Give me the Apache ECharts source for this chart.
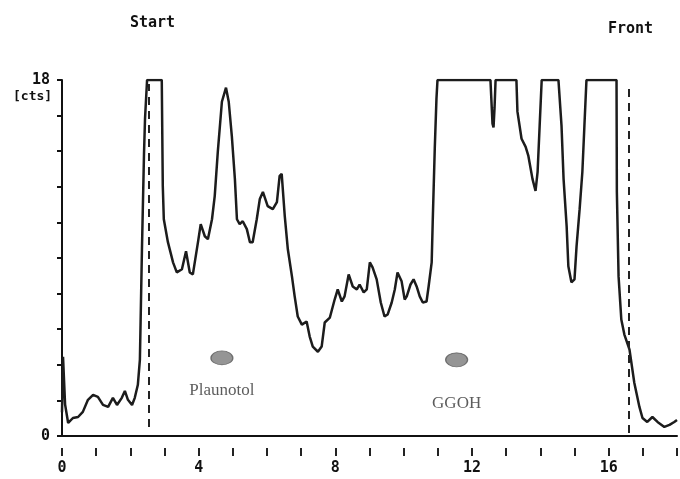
<!DOCTYPE html>
<html>
<head>
<meta charset="utf-8">
<script src="https://cdn.jsdelivr.net/npm/echarts@6/dist/echarts.min.js"></script>
<style>html,body{margin:0;padding:0;background:#fff}#c{width:680px;height:479px}</style>
</head>
<body>
<div id="c"></div>
<script>
// Migration distance (cm) and detector counts
const distance = [0.00,0.03,0.09,0.18,0.32,0.47,0.61,0.76,0.91,1.05,1.20,1.35,1.49,1.61,1.75,1.84,1.93,2.05,2.13,2.22,2.28,2.34,2.40,2.43,2.49,2.92,2.95,2.98,3.10,3.25,3.36,3.51,3.63,3.74,3.83,3.98,4.06,4.18,4.27,4.39,4.47,4.56,4.68,4.80,4.88,4.97,5.06,5.12,5.20,5.29,5.41,5.50,5.58,5.70,5.79,5.88,6.02,6.17,6.29,6.37,6.43,6.52,6.61,6.73,6.81,6.90,7.02,7.16,7.25,7.34,7.49,7.60,7.69,7.84,7.98,8.07,8.19,8.27,8.39,8.51,8.63,8.71,8.83,8.92,9.01,9.09,9.21,9.33,9.44,9.53,9.65,9.74,9.82,9.94,10.03,10.09,10.20,10.29,10.38,10.47,10.56,10.67,10.73,10.82,10.85,10.91,10.96,10.99,12.54,12.60,12.63,12.66,12.69,13.30,13.33,13.45,13.57,13.65,13.77,13.86,13.92,13.98,14.04,14.53,14.62,14.68,14.77,14.82,14.91,15.00,15.06,15.15,15.23,15.29,15.35,16.23,16.24,16.29,16.37,16.46,16.61,16.75,16.90,16.99,17.13,17.28,17.43,17.63,17.78,17.92,18.00];
const counts = [1.2,4.0,1.6,0.66,0.91,0.96,1.22,1.83,2.08,1.98,1.57,1.47,1.93,1.57,1.93,2.28,1.83,1.57,1.93,2.59,3.86,9.44,14.26,16.04,18,18,12.64,10.96,9.80,8.78,8.27,8.43,9.34,8.27,8.17,9.80,10.71,10.10,9.95,10.96,12.13,14.37,16.90,17.61,16.90,15.18,13.00,10.96,10.71,10.86,10.46,9.80,9.80,10.96,11.98,12.34,11.62,11.47,11.83,13.15,13.25,11.12,9.44,8.07,7.06,6.04,5.63,5.79,5.03,4.52,4.26,4.52,5.74,5.99,6.90,7.41,6.80,7.06,8.17,7.56,7.41,7.66,7.26,7.41,8.78,8.53,7.92,6.75,6.04,6.14,6.75,7.41,8.27,7.82,6.90,7.06,7.66,7.92,7.56,7.06,6.75,6.80,7.56,8.78,10.81,14.52,17.06,18,18,15.79,15.6,16.6,18,18,16.40,15.03,14.62,14.16,13.00,12.39,13.35,15.69,18,18,15.69,13.00,10.61,8.58,7.77,7.92,9.59,11.47,13.35,15.69,18,18,12.34,8.07,5.89,5.13,4.37,2.69,1.47,0.91,0.71,0.96,0.71,0.46,0.56,0.71,0.81];
const xTickLabels = ['0','4','8','12','16'];
const yTickLabels = ['0','18'];
const startLine = 2.54;
const frontLine = 16.59;
const spotNames = ['Plaunotol', 'GGOH'];
const spotX = [4.68, 11.55];
const spotY = [3.95, 3.85];

const chart = echarts.init(document.getElementById('c'), null, {renderer:'canvas'});
const pts = distance.map((d,i)=>[d, counts[i]]);
const mono = '"DejaVu Sans Mono", monospace';
const labelGap = [17, 28];

chart.setOption({
  backgroundColor:'#fff',
  animation:false,
  grid:{left:62, right:2, top:80, bottom:43},
  xAxis:[{
    type:'value', min:0, max:18, interval:1,
    axisLine:{show:true, lineStyle:{color:'#111', width:2}},
    axisTick:{show:false}, axisLabel:{show:false}, splitLine:{show:false}
  },{
    type:'value', min:0, max:18, interval:1, position:'bottom', offset:12,
    axisLine:{show:false},
    axisTick:{show:true, length:8, lineStyle:{color:'#222', width:2}},
    axisLabel:{show:true, margin:13, color:'#111', fontFamily:mono, fontWeight:'bold', fontSize:15,
      formatter:v=>{const s=String(Math.round(v)); return (Math.abs(v-Math.round(v))<1e-6 && xTickLabels.includes(s))?s:'';}},
    splitLine:{show:false}
  }],
  yAxis:{
    type:'value', min:0, max:18, interval:1.8,
    axisLine:{show:true, lineStyle:{color:'#111', width:2}},
    axisTick:{show:true, inside:false, length:5, lineStyle:{color:'#111', width:2}},
    axisLabel:{show:true, margin:12, color:'#111', fontFamily:mono, fontWeight:'bold', fontSize:15,
      formatter:v=>{const s=String(Math.round(v)); return (Math.abs(v-Math.round(v))<1e-6 && yTickLabels.includes(s))?s:'';}},
    splitLine:{show:false}
  },
  series:[{
    type:'line', data:pts, xAxisIndex:0, symbol:'none',
    lineStyle:{color:'#1c1c1c', width:2.5},
    markLine:{
      silent:true, symbol:'none', label:{show:false},
      lineStyle:{color:'#222', type:[8,6], width:2},
      data:[
        [{coord:[startLine,0.45]},{coord:[startLine,17.8]}],
        [{coord:[frontLine,0.15]},{coord:[frontLine,17.7]}]
      ]
    }
  },{
    type:'scatter', xAxisIndex:0,
    data:spotX.map((x,i)=>({value:[x, spotY[i]], label:{distance:labelGap[i]}})),
    symbol:'circle', symbolSize:[22,14],
    itemStyle:{color:'#7a7a7a', borderColor:'#555', borderWidth:1},
    label:{show:true, position:'bottom', color:'#333',
      fontFamily:'"Liberation Serif", serif', fontSize:17,
      formatter:p=>spotNames[p.dataIndex]}
  }],
  graphic:[
    {type:'text', left:13, top:90, style:{text:'[cts]', font:'bold 13px '+mono, fill:'#111'}},
    {type:'text', left:130, top:16, style:{text:'Start', font:'bold 15px '+mono, fill:'#111'}},
    {type:'text', left:608, top:22, style:{text:'Front', font:'bold 15px '+mono, fill:'#111'}}
  ]
});
</script>
</body>
</html>
